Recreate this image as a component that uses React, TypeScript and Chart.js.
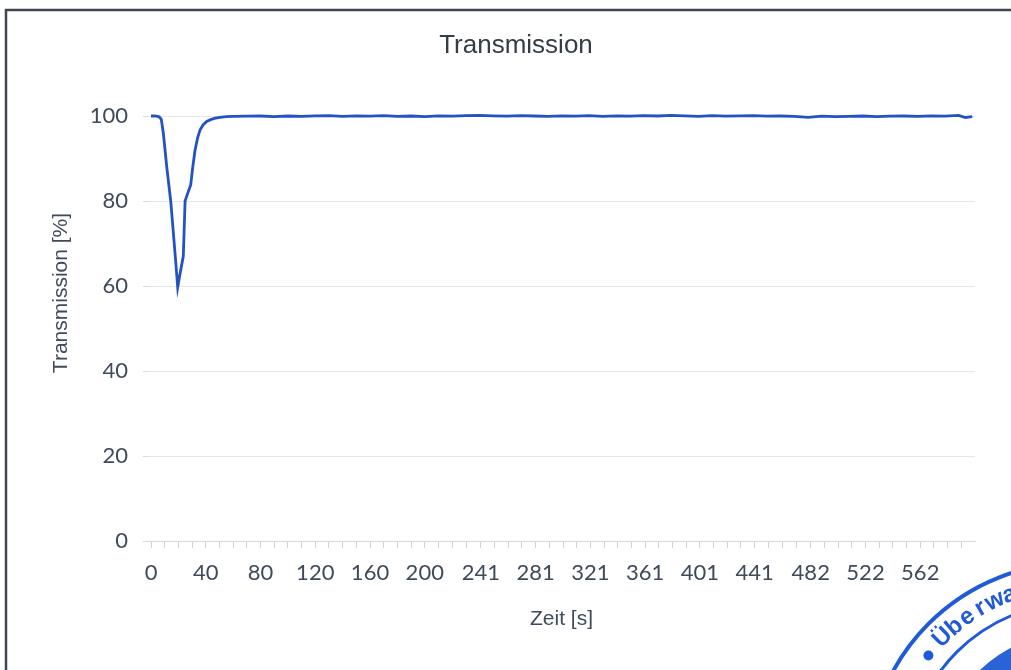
import { useEffect, useRef } from 'react';
import { Chart, registerables } from 'chart.js';

Chart.register(...registerables);

const chartTitle = 'Transmission';
const yAxisTitle = 'Transmission [%]';
const xAxisTitle = 'Zeit [s]';
const stampText = 'Überwa';

const xTickLabels = ['0', '40', '80', '120', '160', '200', '241', '281', '321', '361', '401', '441', '482', '522', '562'];

const timeSeconds = [
  0, 2, 4, 6, 7.5, 9, 11.5, 14.4, 16.3, 18.3, 19.5, 21.5, 23.6, 24.9, 27, 29, 30.5, 32.2, 34, 35.8, 38, 40.7, 44, 47, 50.4, 55,
  60, 70, 80, 90, 100, 110, 120, 130, 140, 150, 160, 170, 180, 190, 200, 210, 220, 230, 240, 250, 260, 270, 280, 290,
  300, 310, 320, 330, 340, 350, 360, 370, 380, 390, 400, 410, 420, 430, 440, 450, 460, 470, 480, 490, 500, 510, 520,
  530, 540, 550, 560, 570, 580, 590, 595, 600,
];

const transmissionPercent = [
  100.0, 100.0, 99.95, 99.8, 99.2, 96.0, 88.0, 80.0, 72.6, 64.7, 59.7, 63.4, 67.0, 80.0, 82.0, 83.8, 88.0, 92.0, 94.8, 96.7, 97.9, 98.7, 99.2, 99.5, 99.7, 99.85,
  99.9, 99.95, 100.0, 99.85, 100.0, 99.9, 100.05, 100.1, 99.9, 100.05, 99.95, 100.1, 99.9, 100.0, 99.85, 100.05, 99.95, 100.1, 100.15, 100.05, 99.95, 100.1, 100.0, 99.9,
  100.05, 99.95, 100.1, 99.9, 100.05, 99.95, 100.1, 100.0, 100.15, 100.05, 99.9, 100.1, 99.95, 100.05, 100.1, 99.95, 100.0, 99.9, 99.7, 99.95, 99.85, 99.9, 100.0,
  99.85, 99.95, 100.0, 99.9, 100.05, 99.95, 100.15, 99.65, 99.85,
];

const decorPlugin = {
  id: 'decor',
  beforeDraw(chart: any) {
    const ctx = chart.ctx;
    ctx.save();
    ctx.strokeStyle = '#3e4652';
    ctx.lineWidth = 2.5;
    ctx.beginPath();
    ctx.moveTo(1011, 10);
    ctx.lineTo(6, 10);
    ctx.lineTo(6, 670);
    ctx.stroke();
    ctx.restore();
  },
  afterDraw(chart: any) {
    const ctx = chart.ctx;
    const area = chart.chartArea;
    ctx.save();
    ctx.textAlign = 'center';
    ctx.textBaseline = 'middle';
    ctx.fillStyle = '#353c46';
    ctx.font = '26px "Liberation Sans", Arial, sans-serif';
    ctx.fillText(chartTitle, 516, 46);
    ctx.fillStyle = '#3f4a5a';
    ctx.font = '21px "Liberation Sans", Arial, sans-serif';
    ctx.fillText(xAxisTitle, (area.left + area.right) / 2, 619);
    ctx.save();
    ctx.translate(61, 293);
    ctx.rotate(-Math.PI / 2);
    ctx.fillText(yAxisTitle, 0, 0);
    ctx.restore();

    // stamp in the corner
    const cx = 1075;
    const cy = 770;
    ctx.strokeStyle = '#1f5ad8';
    ctx.fillStyle = '#1f5ad8';
    ctx.lineWidth = 4;
    ctx.beginPath();
    ctx.arc(cx, cy, 207, 0, Math.PI * 2);
    ctx.stroke();
    ctx.lineWidth = 3;
    ctx.beginPath();
    ctx.arc(cx, cy, 167, 0, Math.PI * 2);
    ctx.stroke();
    ctx.fillStyle = '#2a63d6';
    ctx.beginPath();
    ctx.arc(cx, cy, 138, 0, Math.PI * 2);
    ctx.fill();
    ctx.fillStyle = '#1f5ad8';
    const dotA = (-142 * Math.PI) / 180;
    ctx.beginPath();
    ctx.arc(cx + 186 * Math.cos(dotA), cy + 186 * Math.sin(dotA), 5, 0, Math.PI * 2);
    ctx.fill();
    ctx.font = 'bold 24px "Liberation Sans", Arial, sans-serif';
    const chars = Array.from(stampText);
    chars.forEach((ch, i) => {
      const a = ((-135 + i * 4.9) * Math.PI) / 180;
      ctx.save();
      ctx.translate(cx + 187 * Math.cos(a), cy + 187 * Math.sin(a));
      ctx.rotate(a + Math.PI / 2);
      ctx.fillText(ch, 0, 0);
      ctx.restore();
    });
    ctx.restore();
  },
};

export default function App() {
  const canvasRef = useRef<HTMLCanvasElement | null>(null);

  useEffect(() => {
    if (!canvasRef.current) return;
    const majorValues = xTickLabels.map(Number);
    const chart = new Chart(canvasRef.current, {
      type: 'line',
      data: {
        datasets: [
          {
            label: chartTitle,
            data: timeSeconds.map((t, i) => ({ x: t, y: transmissionPercent[i] })),
            borderColor: '#2552c2',
            borderWidth: 2.8,
            pointRadius: 0,
            tension: 0,
            fill: false,
            clip: false as any,
          },
        ],
      },
      options: {
        animation: false,
        responsive: true,
        maintainAspectRatio: false,
        layout: { padding: { left: 0, right: 36, top: 116, bottom: 0 } },
        plugins: {
          legend: { display: false },
          title: { display: false },
          tooltip: { enabled: false },
        },
        scales: {
          x: {
            type: 'linear',
            min: -2.2,
            max: 602,
            afterFit(scale: any) {
              scale.height = 129;
            },
            afterBuildTicks(scale: any) {
              const vals: number[] = [];
              for (let i = 0; i < majorValues.length; i++) {
                vals.push(majorValues[i]);
                const next = i + 1 < majorValues.length ? majorValues[i + 1] : majorValues[i] + 40;
                for (let k = 1; k < 4; k++) {
                  const v = majorValues[i] + ((next - majorValues[i]) * k) / 4;
                  if (v <= 602) vals.push(v);
                }
              }
              scale.ticks = vals.map((v) => ({ value: v }));
            },
            ticks: {
              autoSkip: false,
              maxRotation: 0,
              padding: 12,
              color: '#3f4a5a',
              font: { family: 'Lato, "Open Sans", sans-serif', size: 22 },
              callback(value: any) {
                const idx = majorValues.indexOf(Number(value));
                return idx >= 0 ? xTickLabels[idx] : '';
              },
            },
            grid: {
              drawOnChartArea: false,
              drawTicks: true,
              tickLength: 7,
              tickColor: '#cdd3dc',
            },
            border: { display: true, color: '#d3d8e0', width: 1 },
          },
          y: {
            type: 'linear',
            min: 0,
            max: 100,
            afterFit(scale: any) {
              scale.width = 148;
            },
            ticks: {
              stepSize: 20,
              padding: 15,
              color: '#3f4a5a',
              font: { family: 'Lato, "Open Sans", sans-serif', size: 22 },
            },
            grid: {
              color: '#e3e7ec',
              tickColor: '#d6dbe2',
              tickLength: 5,
            },
            border: { display: false },
          },
        },
      },
      plugins: [decorPlugin],
    });
    return () => chart.destroy();
  }, []);

  return (
    <div style={{ position: 'absolute', left: 0, top: 0, width: 1011, height: 670, background: '#fff' }}>
      <canvas ref={canvasRef} />
    </div>
  );
}
